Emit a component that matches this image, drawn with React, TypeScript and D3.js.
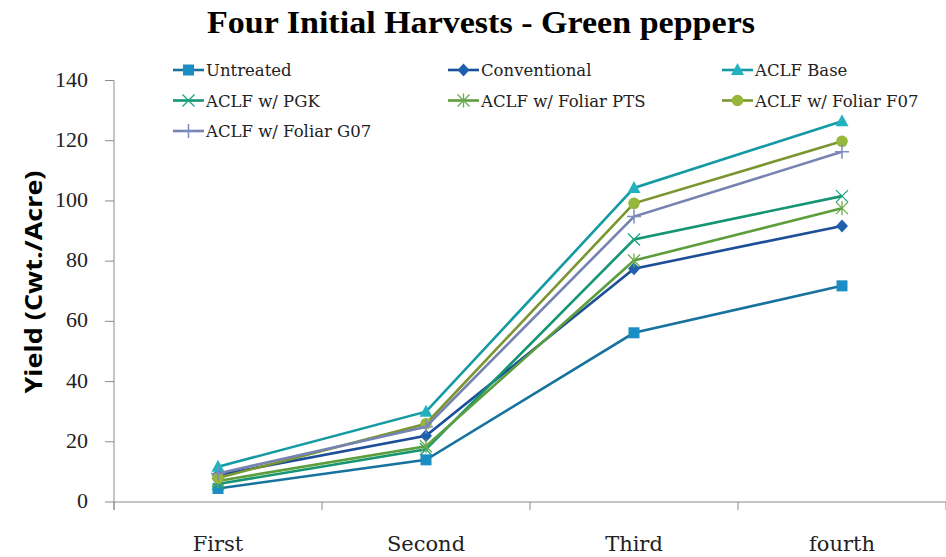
import React from "react";
import * as d3 from "d3";

const categories = ["First", "Second", "Third", "fourth"];
const seriesNames = [
  "Untreated",
  "Conventional",
  "ACLF Base",
  "ACLF w/ PGK",
  "ACLF w/ Foliar PTS",
  "ACLF w/ Foliar F07",
  "ACLF w/ Foliar G07",
];
const untreated = [4.5, 14, 56.2, 71.8];
const conventional = [9, 22, 77.5, 91.7];
const aclfBase = [11.7, 30, 104.3, 126.5];
const aclfPGK = [6, 17.5, 87.2, 101.6];
const aclfPTS = [7, 18.5, 80.2, 97.6];
const aclfF07 = [8, 26, 99.2, 119.8];
const aclfG07 = [9.5, 25, 94.8, 116.3];
const yTicks = [0, 20, 40, 60, 80, 100, 120, 140];

const seriesValues = [untreated, conventional, aclfBase, aclfPGK, aclfPTS, aclfF07, aclfG07];
const lineColors = ["#17739e", "#1d4f98", "#139aa3", "#169574", "#5c9e3e", "#7b9630", "#7582b2"];
const markerColors = ["#1a8dc4", "#1f5fae", "#22b2bd", "#1aa57f", "#6aab4c", "#97b63c", "#7e8cbd"];
const markerTypes = ["square", "diamond", "triangle", "x", "star", "circle", "plus"];

function Marker({ type, x, y, fill }: { type: string; x: number; y: number; fill: string }) {
  switch (type) {
    case "square":
      return <rect x={x - 5.5} y={y - 5.5} width={11} height={11} fill={fill} />;
    case "diamond":
      return <path d={`M${x},${y - 6.5}L${x + 6},${y}L${x},${y + 6.5}L${x - 6},${y}Z`} fill={fill} />;
    case "triangle":
      return <path d={`M${x},${y - 7}L${x + 6.5},${y + 5}L${x - 6.5},${y + 5}Z`} fill={fill} />;
    case "circle":
      return <circle cx={x} cy={y} r={5.8} fill={fill} />;
    case "x":
      return (
        <path d={`M${x - 6},${y - 6}L${x + 6},${y + 6}M${x - 6},${y + 6}L${x + 6},${y - 6}`} stroke={fill} strokeWidth={1.3} fill="none" />
      );
    case "star":
      return (
        <path
          d={`M${x - 6},${y - 6}L${x + 6},${y + 6}M${x - 6},${y + 6}L${x + 6},${y - 6}M${x},${y - 7}L${x},${y + 7}`}
          stroke={fill}
          strokeWidth={1.3}
          fill="none"
        />
      );
    case "plus":
      return <path d={`M${x - 7},${y}L${x + 7},${y}M${x},${y - 7}L${x},${y + 7}`} stroke={fill} strokeWidth={1.5} fill="none" />;
    default:
      return null;
  }
}

export default function App() {
  const W = 946;
  const H = 557;
  const left = 114;
  const right = 946;
  const top = 80.5;
  const bottom = 502;

  const x = d3.scaleBand<string>().domain(categories).range([left, right]);
  const y = d3.scaleLinear().domain([0, 140]).range([bottom, top]);
  const line = d3
    .line<number>()
    .x((_, i) => (x(categories[i]) as number) + x.bandwidth() / 2)
    .y((d) => y(d));

  const boundaries = categories.map((c) => x(c) as number).concat([right]);

  const legendCols = [173, 448, 722];
  const legendRows = [70, 100.5, 131];
  const serif = "'DejaVu Serif', serif";

  return (
    <div style={{ position: "absolute", left: 0, top: 0 }}>
      <svg width={W} height={H} style={{ display: "block", background: "#fff" }}>
        <text
          x={207}
          y={33}
          textLength={548}
          lengthAdjust="spacingAndGlyphs"
          fontFamily="'Liberation Serif', serif"
          fontWeight="bold"
          fontSize={31}
          fill="#000"
        >
          Four Initial Harvests - Green peppers
        </text>

        {/* y axis */}
        <line x1={left} x2={left} y1={top} y2={bottom + 8} stroke="#8c8c8c" strokeWidth={1} />
        {yTicks.map((t) => (
          <g key={t}>
            <line x1={left - 9} x2={left} y1={y(t)} y2={y(t)} stroke="#8c8c8c" strokeWidth={1} />
            <text
              x={88}
              y={y(t) + 6}
              textAnchor="end"
              fontFamily="'Liberation Serif', serif"
              fontSize={22}
              fill="#222"
            >
              {t}
            </text>
          </g>
        ))}
        {/* x axis */}
        <line x1={left} x2={right} y1={bottom} y2={bottom} stroke="#8c8c8c" strokeWidth={1} />
        {boundaries.map((b, i) => (
          <line key={i} x1={b} x2={b} y1={bottom} y2={bottom + 8} stroke="#8c8c8c" strokeWidth={1} />
        ))}
        {categories.map((c) => (
          <text
            key={c}
            x={(x(c) as number) + x.bandwidth() / 2}
            y={551}
            textAnchor="middle"
            fontFamily={serif}
            fontSize={21}
            fill="#222"
          >
            {c}
          </text>
        ))}

        <text
          transform={`translate(42,282) rotate(-90)`}
          textAnchor="middle"
          textLength={223}
          lengthAdjust="spacingAndGlyphs"
          fontFamily="'Open Sans', sans-serif"
          fontWeight="bold"
          fontSize={24}
          fill="#000"
        >
          Yield (Cwt./Acre)
        </text>

        {/* series */}
        {seriesValues.map((vals, si) => (
          <g key={si}>
            <path d={line(vals) as string} fill="none" stroke={lineColors[si]} strokeWidth={2.6} />
            {vals.map((v, i) => (
              <Marker
                key={i}
                type={markerTypes[si]}
                x={(x(categories[i]) as number) + x.bandwidth() / 2}
                y={y(v)}
                fill={markerColors[si]}
              />
            ))}
          </g>
        ))}

        {/* legend */}
        {seriesNames.map((name, si) => {
          const lx = legendCols[si % 3];
          const ly = legendRows[Math.floor(si / 3)];
          return (
            <g key={name}>
              <line x1={lx} x2={lx + 31} y1={ly} y2={ly} stroke={lineColors[si]} strokeWidth={2.6} />
              <Marker type={markerTypes[si]} x={lx + 15.5} y={ly} fill={markerColors[si]} />
              <text x={lx + 33} y={ly + 6} fontFamily={serif} fontSize={16.5} fill="#222">
                {name}
              </text>
            </g>
          );
        })}
      </svg>
    </div>
  );
}
